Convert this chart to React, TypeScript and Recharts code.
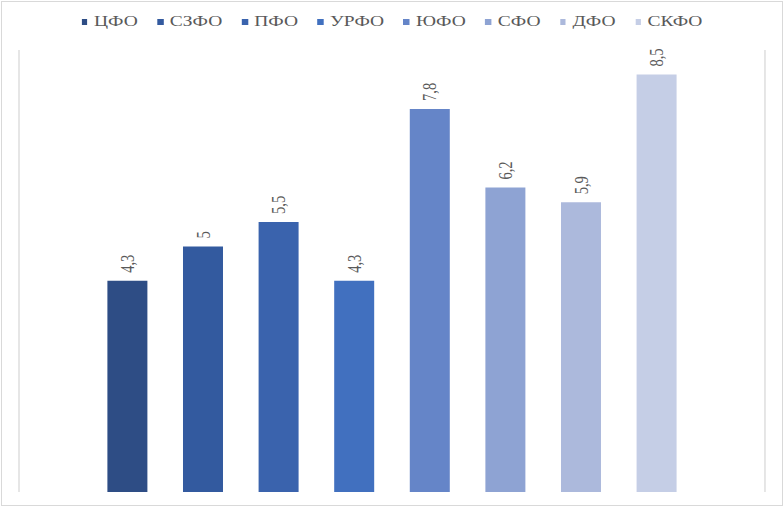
import React from 'react';
import { BarChart, Bar, XAxis, YAxis, CartesianGrid, Legend, LabelList } from 'recharts';

const regions = ['ЦФО', 'СЗФО', 'ПФО', 'УРФО', 'ЮФО', 'СФО', 'ДФО', 'СКФО'];
const values = [4.3, 5, 5.5, 4.3, 7.8, 6.2, 5.9, 8.5];
const colors = ['#2E4D85', '#335A9F', '#3A63AD', '#4170BF', '#6585C8', '#8EA3D3', '#ACB9DC', '#C5CEE6'];
const yDomain = [0, 9];

const row: Record<string, any> = { name: '' };
regions.forEach((r, i) => {
  row[r] = values[i];
});
const data = [row];

const SX = 1.3;
const W = 784 / SX;
const H = 507;
const FONT = '"Liberation Serif", "Times New Roman", serif';

const fmt = (v: number) => String(v).replace('.', ',');

const RotLabel = (props: any) => {
  const { x, y, width, value } = props;
  const cx = x + width / 2;
  const ty = y - 8;
  return (
    <text
      x={cx}
      y={ty}
      dy="0.35em"
      transform={`rotate(-90, ${cx}, ${ty})`}
      textAnchor="start"
      fill="#595959"
      fontSize={14.5}
      fontFamily={FONT}
    >
      {fmt(value)}
    </text>
  );
};

const renderLegend = (props: any) => {
  const payload = [...(props.payload || [])].sort(
    (a: any, b: any) => regions.indexOf(a.value) - regions.indexOf(b.value)
  );
  return (
    <div style={{ display: 'flex', justifyContent: 'center', alignItems: 'center', fontFamily: FONT, fontSize: 15, color: '#595959', lineHeight: '17px' }}>
      {payload.map((p: any, i: number) => (
        <div key={i} style={{ display: 'flex', alignItems: 'center', marginRight: i < payload.length - 1 ? 15 : 0 }}>
          <span style={{ display: 'inline-block', width: 4.6, height: 6, background: p.color, marginRight: 5 }} />
          <span>{p.value}</span>
        </div>
      ))}
    </div>
  );
};

export default function App() {
  return (
    <div style={{ position: 'absolute', left: 0, top: 0, width: 784, height: 507, background: '#fff' }}>
      <div
        style={{
          position: 'absolute',
          left: 1,
          top: 1,
          width: 782,
          height: 505,
          boxSizing: 'border-box',
          border: '1px solid #d9d9d9',
        }}
      />
      <div style={{ position: 'absolute', left: 0, top: 0, transform: `scaleX(${SX})`, transformOrigin: '0 0' }}>
        <BarChart
          width={W}
          height={H}
          data={data}
          margin={{ top: 50, right: W - 765 / SX, bottom: 15, left: 19 / SX }}
          barSize={40 / SX}
          barGap={35.6 / SX}
        >
          <CartesianGrid horizontal={false} verticalPoints={[19 / SX, 765 / SX]} stroke="#d9d9d9" />
          <XAxis dataKey="name" hide />
          <YAxis hide domain={yDomain} />
          <Legend
            verticalAlign="middle"
            align="center"
            itemSorter={null as any}
            content={renderLegend}
            wrapperStyle={{ top: 13, left: 0, width: W }}
          />
          {regions.map((r, i) => (
            <Bar key={r} dataKey={r} fill={colors[i]} isAnimationActive={false}>
              <LabelList dataKey={r} content={RotLabel} />
            </Bar>
          ))}
        </BarChart>
      </div>
    </div>
  );
}
